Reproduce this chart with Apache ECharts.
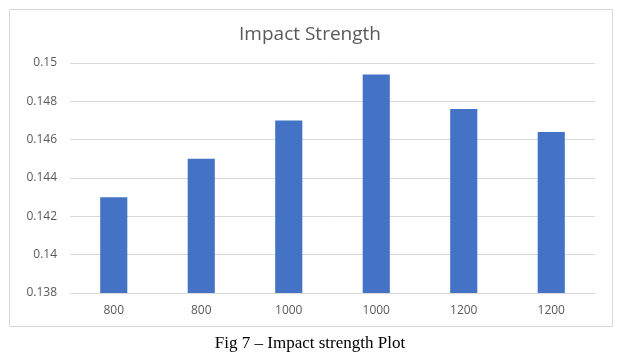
<!DOCTYPE html>
<html>
<head>
<meta charset="utf-8">
<script src="https://cdn.jsdelivr.net/npm/echarts@6/dist/echarts.min.js"></script>
<style>
html,body{margin:0;padding:0;background:#fff;}
#c{width:620px;height:359px;}
</style>
</head>
<body>
<div id="c"></div>
<script>
const categories = ['800', '800', '1000', '1000', '1200', '1200'];
const impactStrength = [0.143, 0.145, 0.147, 0.1494, 0.1476, 0.1464];
const yTicks = [0.138, 0.14, 0.142, 0.144, 0.146, 0.148, 0.15];

const chart = echarts.init(document.getElementById('c'), null, {renderer: 'canvas'});
chart.setOption({
  animation: false,
  backgroundColor: '#ffffff',
  title: [
    {
      text: 'Impact Strength',
      left: 'center',
      top: 20,
      textStyle: {fontFamily: 'Open Sans', fontSize: 19, fontWeight: 'normal', color: '#595959'}
    },
    {
      text: 'Fig 7 \u2013 Impact strength Plot',
      left: 'center',
      top: 330,
      textStyle: {fontFamily: 'Liberation Serif', fontSize: 17, fontWeight: 'normal', color: '#000000'}
    }
  ],
  graphic: [{
    type: 'rect',
    shape: {x: 9.5, y: 9.5, width: 603, height: 317},
    style: {fill: 'none', stroke: '#d9d9d9', lineWidth: 1},
    silent: true,
    z: -1
  }],
  grid: {left: 70, right: 25, top: 63, bottom: 66},
  xAxis: {
    type: 'category',
    data: categories,
    axisLine: {show: true, lineStyle: {color: '#d9d9d9'}},
    axisTick: {show: false},
    axisLabel: {color: '#595959', fontFamily: 'Open Sans', fontSize: 12, margin: 12}
  },
  yAxis: {
    type: 'value',
    min: yTicks[0],
    max: yTicks[yTicks.length - 1],
    interval: 0.002,
    axisLine: {show: false},
    axisTick: {show: false},
    splitLine: {lineStyle: {color: '#d9d9d9'}},
    axisLabel: {
      color: '#595959', fontFamily: 'Open Sans', fontSize: 12, margin: 13,
      formatter: v => String(parseFloat(v.toFixed(4)))
    }
  },
  series: [{
    type: 'bar',
    data: impactStrength,
    barWidth: '31%',
    itemStyle: {color: '#4472c4'}
  }]
});
</script>
</body>
</html>
